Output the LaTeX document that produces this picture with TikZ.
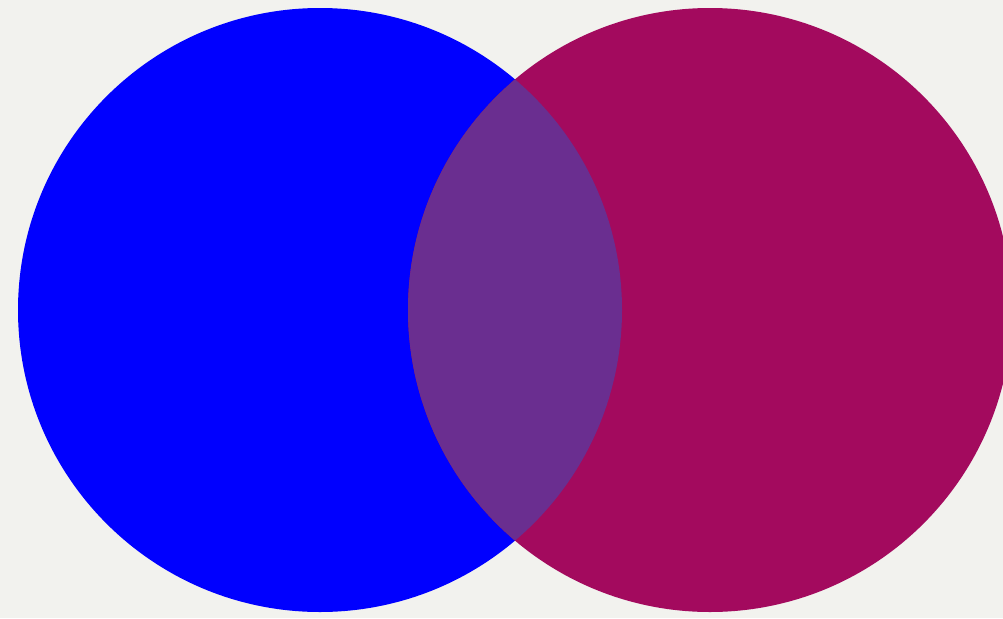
\documentclass[tikz,border=0pt]{standalone}
\usepackage{tikz}
\definecolor{paper}{RGB}{242, 242, 238}
\definecolor{setBlue}{RGB}{0, 0, 255}
\definecolor{setRed}{RGB}{163, 10, 94}
\definecolor{setBoth}{RGB}{106, 46, 144}

\begin{document}
\begin{tikzpicture}[x=0.01cm, y=-0.01cm]
    % page and background
    \useasboundingbox (0,0) rectangle (1003,618);
    \fill[paper] (0,0) rectangle (1003,618);
    \clip (0,0) rectangle (1003,618);

    \fill[setBlue] (320,310) circle[radius=302];
    \fill[setRed] (710,310) circle[radius=302];
    \begin{scope}
      \clip (320,310) circle[radius=302];
      \fill[setBoth] (710,310) circle[radius=302];
    \end{scope}
\end{tikzpicture}
\end{document}
